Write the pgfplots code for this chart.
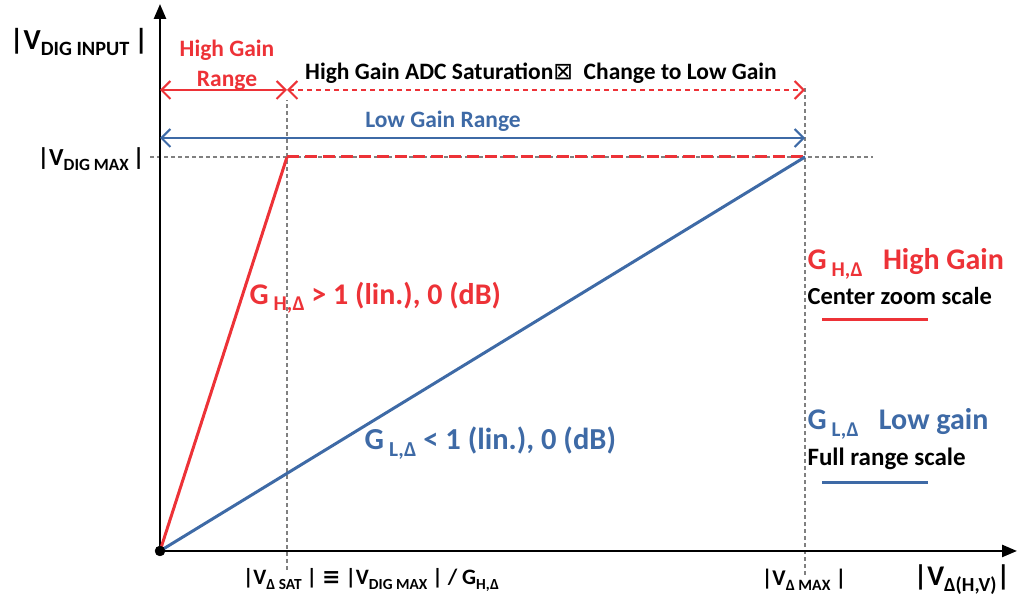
\documentclass[border=0pt]{standalone}
\usepackage{fontspec}
\setmainfont{Carlito}
\newfontfamily\dejavu{DejaVu Sans}
\usepackage{pgfplots}
\pgfplotsset{compat=1.18}
\usetikzlibrary{arrows.meta}
\definecolor{cred}{RGB}{237,50,55}
\definecolor{cblue}{RGB}{62,106,166}
\definecolor{cgray}{RGB}{128,128,128}
\newcommand\sub[1]{\raisebox{-0.22em}{\scalebox{0.7}{#1}}}
\newcommand\fs[2]{\fontsize{#1}{#2}\selectfont\bfseries}
\begin{document}
\begin{tikzpicture}
\begin{axis}[scale only axis, width=1019pt, height=603pt,
  xmin=-160, xmax=859, ymin=-52, ymax=551, hide axis, clip=false]
% guide lines
\draw[cgray, line width=1.5pt, dash pattern=on 4pt off 3pt] (axis cs:127,-19) -- (axis cs:127,451);
\draw[cgray, line width=1.5pt, dash pattern=on 4pt off 3pt] (axis cs:645,-24) -- (axis cs:645,466);
\draw[cgray, line width=1.5pt, dash pattern=on 4pt off 3pt] (axis cs:-10,394) -- (axis cs:713,394);
% axes
\draw[line width=2.5pt, -{Triangle[length=15pt,width=12pt]}] (axis cs:0,0) -- (axis cs:0,547);
\draw[line width=2.5pt, -{Triangle[length=15pt,width=12pt]}] (axis cs:0,0) -- (axis cs:857,0);
% data
\addplot[cred, line width=3pt] coordinates {(0,0) (127,394)};
\addplot[cred, line width=3pt, dash pattern=on 12pt off 6pt] coordinates {(127,394) (645,394)};
\addplot[cblue, line width=3pt] coordinates {(0,0) (645,394)};
\addplot[only marks, mark=*, mark size=5pt, black] coordinates {(0,0)};
% legend lines
\addplot[cred, line width=3pt] coordinates {(662,231) (768,231)};
\addplot[cblue, line width=3pt] coordinates {(662,68) (768,68)};
% range arrows
\draw[cred, line width=2pt, {Straight Barb[length=9pt,width=18pt]}-{Straight Barb[length=9pt,width=18pt]}] (axis cs:0,461) -- (axis cs:127,461);
\draw[cred, line width=2pt, dash pattern=on 5pt off 4pt, {Straight Barb[length=9pt,width=18pt]}-{Straight Barb[length=9pt,width=18pt]}] (axis cs:127,461) -- (axis cs:645,461);
\draw[cblue, line width=2pt, {Straight Barb[length=9pt,width=18pt]}-{Straight Barb[length=9pt,width=18pt]}] (axis cs:0,413) -- (axis cs:645,413);
% texts
\node[font=\fs{29}{34}] at (axis cs:-81,509) {|V\sub{DIG INPUT}\,|};
\node[font=\fs{24.5}{28}, anchor=east] at (axis cs:-12,392) {|V\sub{DIG MAX}\,|};
\node[font=\fs{23.5}{30}, text=cred, align=center] at (axis cs:67,486) {High Gain\\Range};
\node[font=\fs{23.5}{28}] at (axis cs:381,478) {High Gain ADC Saturation{\dejavu\mdseries ⊠}\ \ Change to Low Gain};
\node[font=\fs{23.5}{28}, text=cblue] at (axis cs:283,430) {Low Gain Range};
\node[font=\fs{30}{34}, text=cred, anchor=west] at (axis cs:86,253) {G\,\sub{H,Δ} > 1 (lin.), 0 (dB)};
\node[font=\fs{30.5}{34}, text=cblue, anchor=west] at (axis cs:201,108) {G\,\sub{L,Δ} < 1 (lin.), 0 (dB)};
\node[font=\fs{30}{34}, text=cred, anchor=west] at (axis cs:644,287) {G\,\sub{H,Δ}\ \ \ High Gain};
\node[font=\fs{24.5}{28}, anchor=west] at (axis cs:644,255) {Center zoom scale};
\node[font=\fs{30}{34}, text=cblue, anchor=west] at (axis cs:644,127) {G\,\sub{L,Δ}\ \ \ Low gain};
\node[font=\fs{25}{28}, anchor=west] at (axis cs:644,92) {Full range scale};
\node[font=\fs{22}{26}] at (axis cs:211,-29) {|V\sub{Δ SAT} | {\dejavu ≡} |V\sub{DIG MAX} | / G\sub{H,Δ}};
\node[font=\fs{22.5}{26}] at (axis cs:644,-29) {|V\sub{Δ MAX} |};
\node[font=\fs{28.5}{32}] at (axis cs:802,-29) {|V\sub{Δ(H,V)}|};
\end{axis}
\pgfresetboundingbox
\useasboundingbox (current axis.south west) rectangle (current axis.north east);
\end{tikzpicture}
\end{document}
